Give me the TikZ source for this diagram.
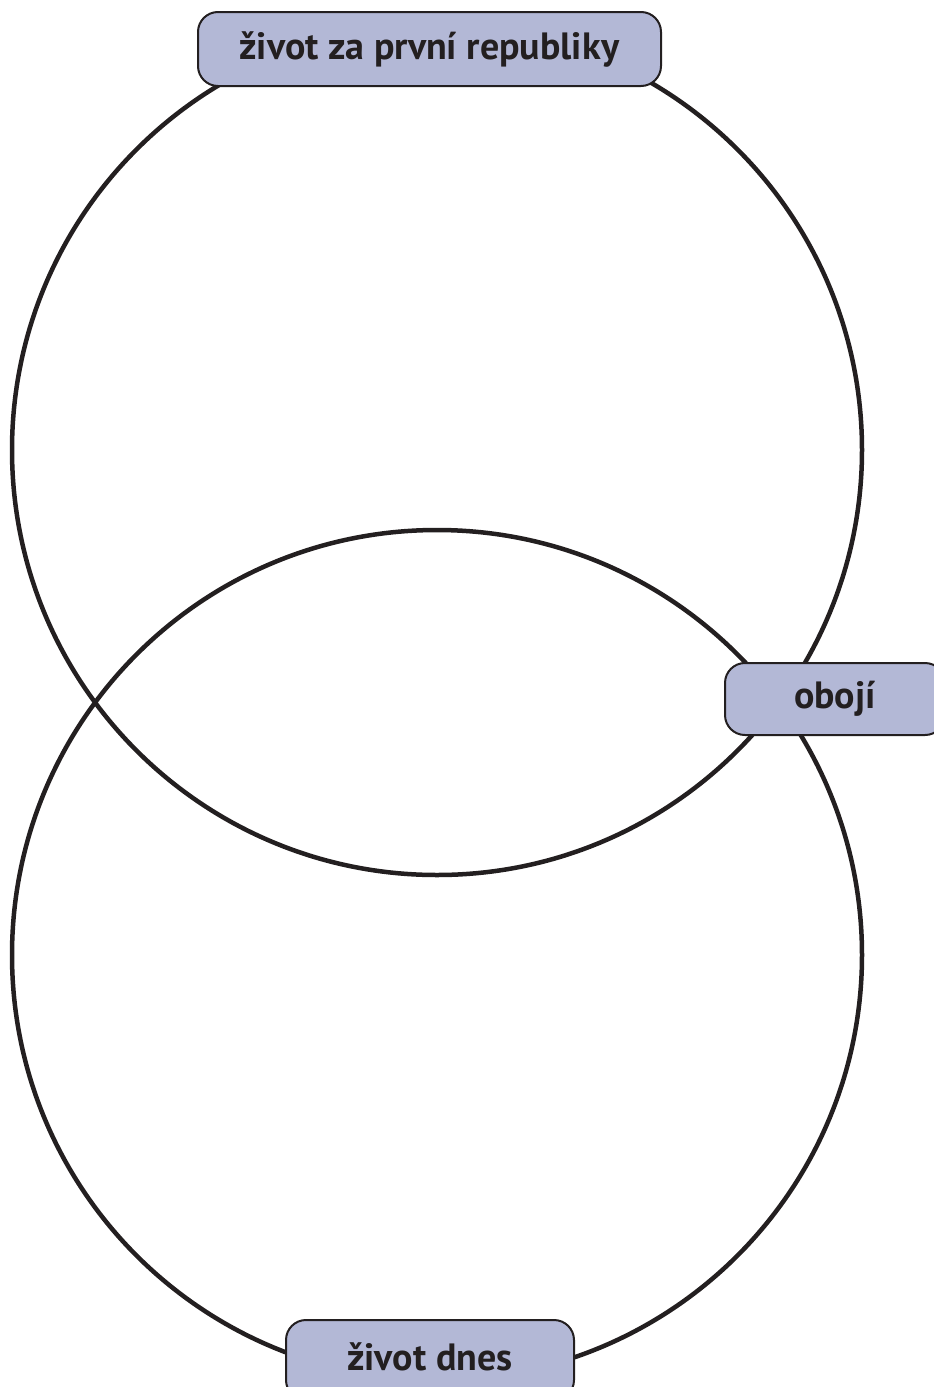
\documentclass[tikz,border=0pt]{standalone}
\usepackage{fontspec}
\setmainfont{PT Sans}
\definecolor{labfill}{HTML}{B3B8D6}
\definecolor{ink}{HTML}{231F20}
\begin{document}
\begin{tikzpicture}[x=1pt,y=-1pt,
  ring/.style={draw=ink,line width=4.5pt},
  label/.style={draw=ink,fill=labfill,line width=2pt,rounded corners=20pt},
  labtext/.style={font=\bfseries\fontsize{38}{44}\selectfont,text=ink}]
\useasboundingbox (0,0) rectangle (934,1387);
\clip (0,0) rectangle (934,1387);
\node[ring,circle,minimum size=850pt,inner sep=0pt] (top) at (437,450) {};
\node[ring,circle,minimum size=850pt,inner sep=0pt] (bot) at (437,955) {};
\draw[label] (198,12) rectangle (661,86);
\node[labtext] (t1) at (429.5,49) {život za první republiky};
\draw[label] (725,663) rectangle (945,735);
\node[labtext] (t2) at (835,699) {obojí};
\draw[label] (286,1320) rectangle (574,1400);
\node[labtext] (t3) at (430,1357) {život dnes};
\end{tikzpicture}
\end{document}
